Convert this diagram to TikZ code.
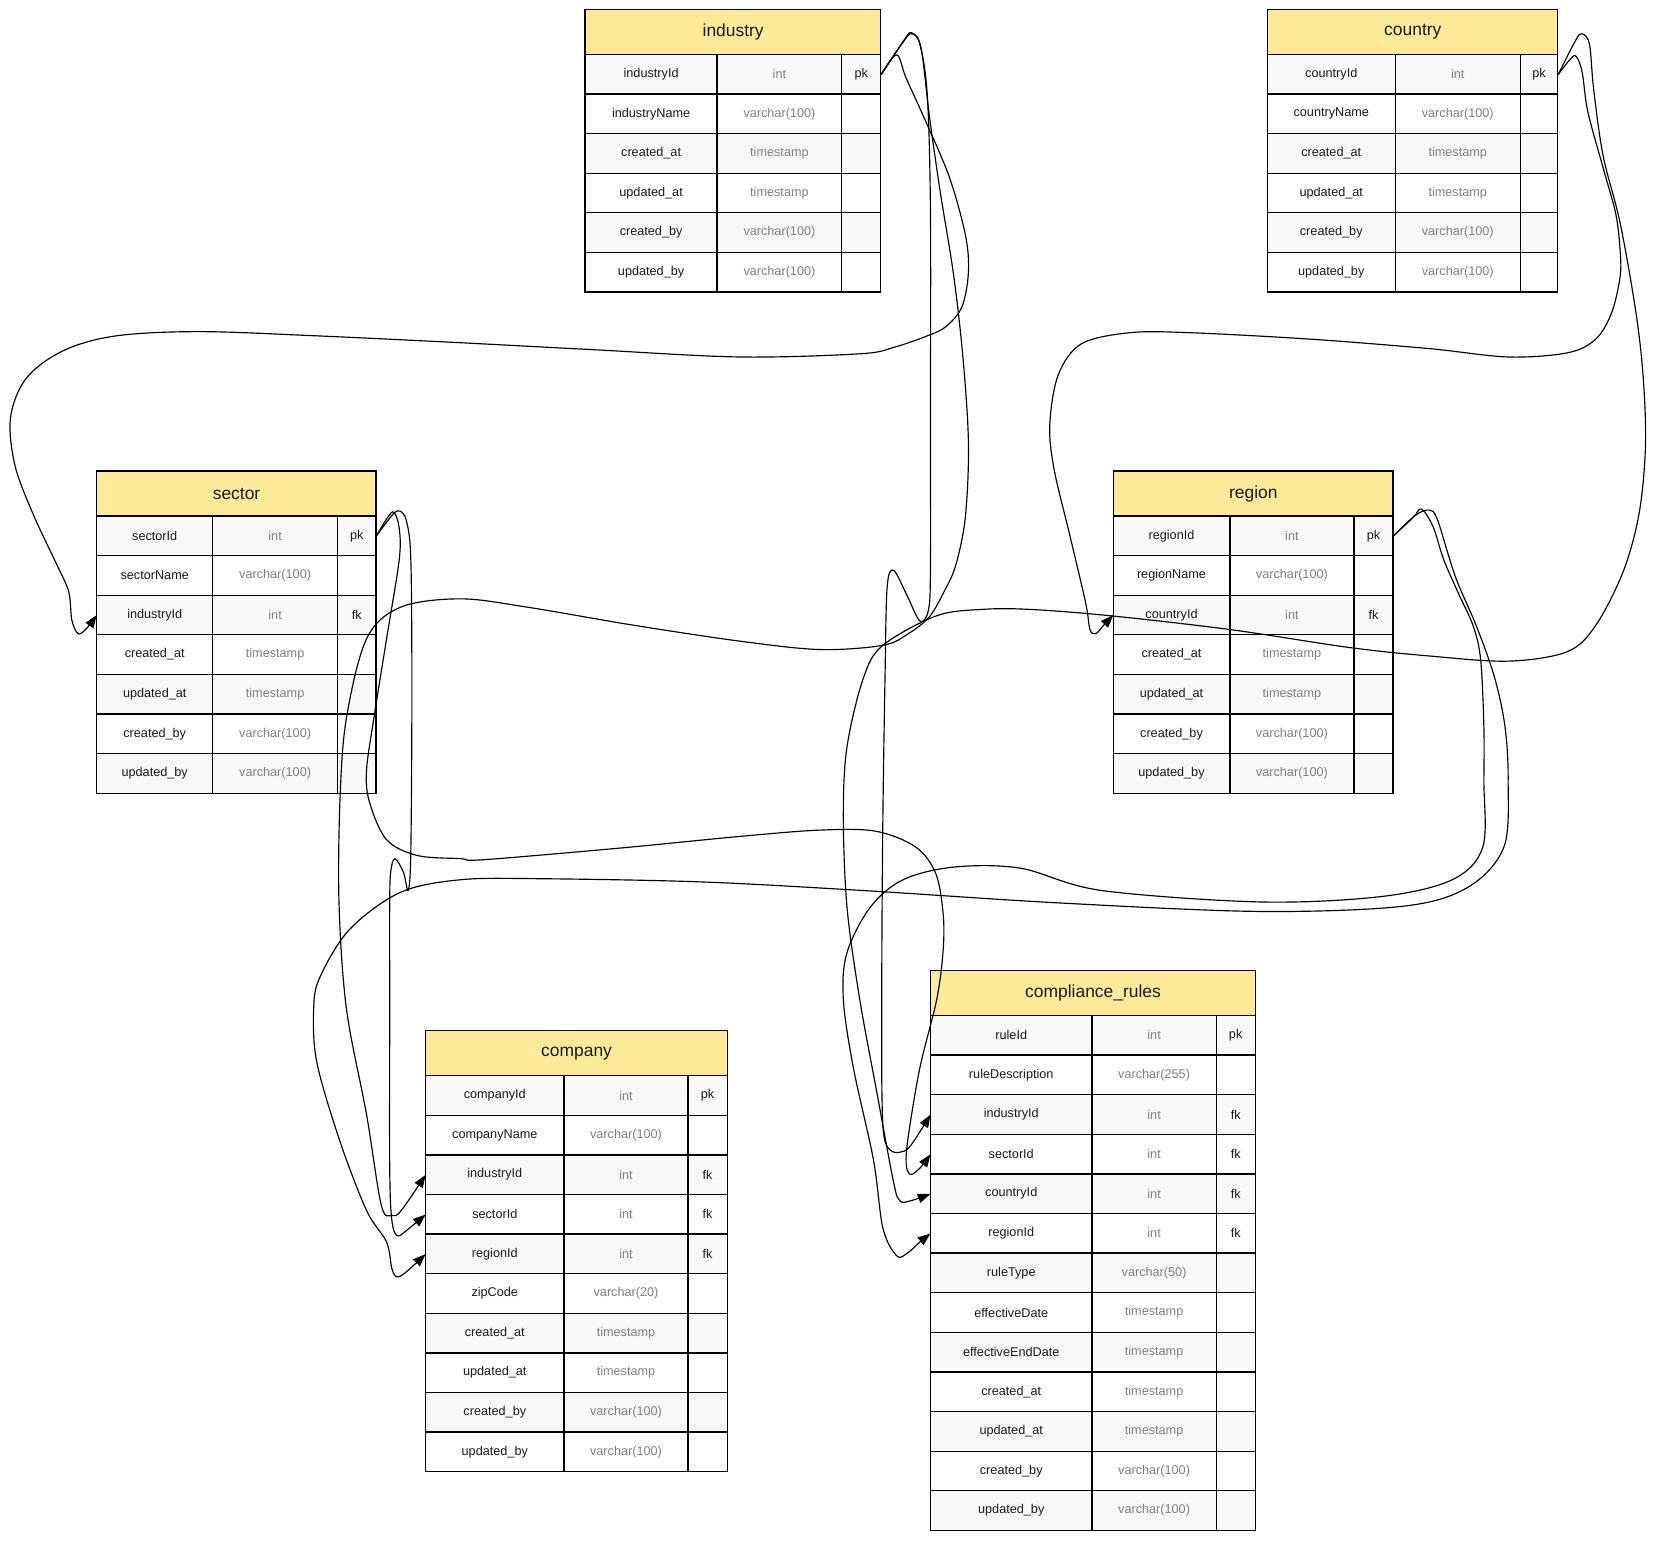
\documentclass[tikz,border=0pt]{standalone}
\usepackage{fontspec}
\setmainfont{Liberation Sans}
\usetikzlibrary{arrows.meta}

\definecolor{hdrfill}{HTML}{FFEA99}
\definecolor{rowgray}{HTML}{F8F8F8}
\definecolor{typegray}{HTML}{808080}
\definecolor{inkdark}{HTML}{1A1A1A}

\tikzset{
  hdr/.style={fill=hdrfill, minimum height=42.5pt,
    inner sep=0pt, font=\fontsize{16.5}{18}\selectfont, text=inkdark},
  rowbox/.style={minimum height=37.5pt, inner sep=0pt},
  fname/.style={font=\fontsize{12}{14}\selectfont, text=inkdark, inner sep=0pt},
  ftype/.style={font=\fontsize{12}{14}\selectfont, text=typegray, inner sep=0pt},
  fkey/.style={fname},
  grid/.style={line width=1.2pt, line cap=rect},
  rel/.style={line width=1.1pt, line join=round, -{Triangle[length=12pt,width=9pt]}},
}

% #1 id, #2 title, #3 left, #4 top, #5 first divider, #6 second divider, #7 right, #8 fields
\newcommand{\erTable}[8]{%
  \pgfmathsetmacro{\erW}{#7-#3}
  \node[hdr, minimum width=\erW pt, anchor=north west] (#1) at (#3,#4) {#2};
  % row fills and texts
  \foreach [count=\i] \fn/\ft/\fk in {#8} {
    \pgfmathsetmacro{\erY}{#4+42.5+(\i-1)*37.5}
    \pgfmathsetmacro{\erC}{\erY+18.75}
    \pgfmathtruncatemacro{\erOdd}{mod(\i,2)}
    \ifnum\erOdd=1 \colorlet{erFill}{rowgray}\else\colorlet{erFill}{white}\fi
    \node[rowbox, fill=erFill, minimum width=\erW pt, anchor=north west] (#1-\i) at (#3,\erY) {};
    \node[fname] (#1-\i-n) at ({(#3+#5)/2},\erC) {\fn};
    \node[ftype] (#1-\i-t) at ({(#5+#6)/2},\erC) {\ft};
    \node[fkey] (#1-\i-k) at ({(#6+#7)/2},\erC) {\fk};
  }
  % frame and cell rules
  \draw[grid] (#3,#4+42.5) -- (#3,#4) -- (#7,#4) -- (#7,#4+42.5);
  \foreach [count=\i] \fn/\ft/\fk in {#8} {
    \pgfmathsetmacro{\erY}{#4+42.5+(\i-1)*37.5}
    \ifnum\i=1 \draw[grid] (#3,\erY) -- (#7,\erY);\fi
    \draw[grid] (#3,\erY+37.5) -- (#7,\erY+37.5);
    \draw[grid] (#3,\erY) -- (#3,\erY+37.5);
    \draw[grid] (#5,\erY) -- (#5,\erY+37.5);
    \draw[grid] (#6,\erY) -- (#6,\erY+37.5);
    \draw[grid] (#7,\erY) -- (#7,\erY+37.5);
  }
}

\begin{document}
\begin{tikzpicture}[x=1pt, y=-1pt]
\useasboundingbox (0,0) rectangle (1568,1459);

\erTable{industry}{industry}{554}{9}{679}{797}{834}{%
  industryId/int/pk, industryName/varchar(100)/{}, created\_at/timestamp/{},
  updated\_at/timestamp/{}, created\_by/varchar(100)/{}, updated\_by/varchar(100)/{}}

\erTable{country}{country}{1200}{9}{1321}{1439.5}{1475}{%
  countryId/int/pk, countryName/varchar(100)/{}, created\_at/timestamp/{},
  updated\_at/timestamp/{}, created\_by/varchar(100)/{}, updated\_by/varchar(100)/{}}

\erTable{sector}{sector}{91.5}{446}{201.5}{319.5}{356}{%
  sectorId/int/pk, sectorName/varchar(100)/{}, industryId/int/fk, created\_at/timestamp/{},
  updated\_at/timestamp/{}, created\_by/varchar(100)/{}, updated\_by/varchar(100)/{}}

\erTable{region}{region}{1054}{446}{1164.5}{1282}{1319}{%
  regionId/int/pk, regionName/varchar(100)/{}, countryId/int/fk, created\_at/timestamp/{},
  updated\_at/timestamp/{}, created\_by/varchar(100)/{}, updated\_by/varchar(100)/{}}

\erTable{company}{company}{403}{976}{534}{651.5}{688.5}{%
  companyId/int/pk, companyName/varchar(100)/{}, industryId/int/fk, sectorId/int/fk,
  regionId/int/fk, zipCode/varchar(20)/{}, created\_at/timestamp/{},
  updated\_at/timestamp/{}, created\_by/varchar(100)/{}, updated\_by/varchar(100)/{}}

\erTable{rules}{compliance\_rules}{881}{919}{1034}{1151.5}{1188.5}{%
  ruleId/int/pk, ruleDescription/varchar(255)/{}, industryId/int/fk, sectorId/int/fk,
  countryId/int/fk, regionId/int/fk, ruleType/varchar(50)/{}, effectiveDate/timestamp/{},
  effectiveEndDate/timestamp/{}, created\_at/timestamp/{}, updated\_at/timestamp/{},
  created\_by/varchar(100)/{}, updated\_by/varchar(100)/{}}

% industry.industryId -> sector.industryId
\draw[rel] plot[smooth, tension=0.55] coordinates {(industry-1.east) (849,52) (858,74) (877,116)
  (899,168) (914,222) (917,257) (911,290) (896,309) (878,318) (846,329) (814,335) (700,338)
  (560,331) (426,324) (300,318) (189,314) (110,318) (60,332) (25,358) (10,395) (14,440)
  (31,486) (53,533) (65,560) (68,587) (74,600) (82,595) (sector-3.west)};

% industry.industryId -> company.industryId
\draw[rel] plot[smooth, tension=0.55] coordinates {(industry-1.east) (856,38) (863,31) (872,45)
  (880,110) (890,180) (903,261) (912,341) (917,421) (914,490) (905,535) (894,560) (880,584)
  (860,600) (836,611) (776,615) (700,607) (600,592) (500,575) (436,567) (379,575) (347,605)
  (328,680) (322,755) (321,855) (328,955) (347,1055) (361,1141) (371,1151) (380,1146)
  (company-3.west)};

% industry.industryId -> compliance_rules.industryId
\draw[rel] plot[smooth, tension=0.55] coordinates {(industry-1.east) (855,40) (863,32) (871,42)
  (878,90) (881,200) (881,400) (881,540) (879,578) (871,588) (858,562) (846,540) (840,556)
  (838,640) (836,770) (835,900) (835,1030) (837,1076) (843,1089) (852,1091) (862,1085)
  (rules-3.west)};

% sector.sectorId -> company.sectorId
\draw[rel] plot[smooth, tension=0.55] coordinates {(sector-1.east) (372,487) (379,484) (385,494)
  (389,530) (390,655) (389,805) (386.6,843) (382,826) (374,813) (370,825) (369,855) (369,955)
  (369,1105) (371,1155) (376,1170) (385,1165) (company-4.west)};

% sector.sectorId -> compliance_rules.sectorId
\draw[rel] plot[smooth, tension=0.55] coordinates {(sector-1.east) (367,490) (373,485) (378,500)
  (378,530) (366,605) (354,680) (347,730) (350,760) (366,795) (395,810) (436,813) (458,814)
  (587,803) (700,792) (776,786) (829,787) (867,802) (886,827) (893,865) (893,900) (887,946)
  (871,1011) (860,1076) (858,1102) (862,1112) (871,1106) (rules-4.west)};

% region.regionId -> company.regionId
\draw[rel] plot[smooth, tension=0.55] coordinates {(region-1.east) (1340,488) (1353,483)
  (1361,492) (1378,546) (1398,593) (1415,641) (1425,688) (1428,739) (1424,802) (1390,840)
  (1329,858) (1193,863) (1004,855) (814,843) (663,835) (511,832) (436,833) (379,845) (331,880)
  (303,925) (297,955) (300,1006) (322,1081) (347,1146) (366,1176) (371,1201) (376,1209)
  (385,1204) (company-5.west)};

% region.regionId -> compliance_rules.regionId
\draw[rel] plot[smooth, tension=0.55] coordinates {(region-1.east) (1338,490) (1346,482)
  (1357,499) (1367,530) (1381,562) (1395,593) (1402,625) (1405,688) (1405,739) (1404,802)
  (1375,833) (1307,849) (1193,854) (1042,843) (966,822) (903,821) (855,833) (824,859)
  (802,902) (798.5,946) (808,1011) (827,1098) (836,1163) (849,1189) (858.5,1187) (871,1176)
  (rules-6.west)};

% country.countryId -> compliance_rules.countryId
\draw[rel] plot[smooth, tension=0.55] coordinates {(country-1.east) (1492,38) (1498,32)
  (1505,42) (1509,85) (1518,148) (1534,211) (1549,296) (1556,359) (1558,423) (1552,486)
  (1537,541) (1511,592) (1484,617) (1428,626) (1352,621) (1277,613) (1164,596) (1051,583)
  (975,577) (930,577) (887,583) (836,611) (817.5,642) (802,707) (798.5,772) (802,859)
  (814,946) (830,1033) (846,1119) (852,1137) (862,1137) (rules-5.west)};

% country.countryId -> region.countryId
\draw[rel] plot[smooth, tension=0.55] coordinates {(country-1.east) (1486,57) (1492,53)
  (1498,68) (1503.5,106) (1518.5,161) (1530,203) (1534,237) (1534,262) (1526,296) (1511,321)
  (1484.5,334) (1428,338) (1352.5,330) (1239,321) (1126,315) (1070,315) (1024,325.5)
  (1002,355) (994,402) (998,444) (1013,507) (1028,571) (1032,596) (1037.5,600) (1045,592)
  (region-3.west)};

\end{tikzpicture}
\end{document}
